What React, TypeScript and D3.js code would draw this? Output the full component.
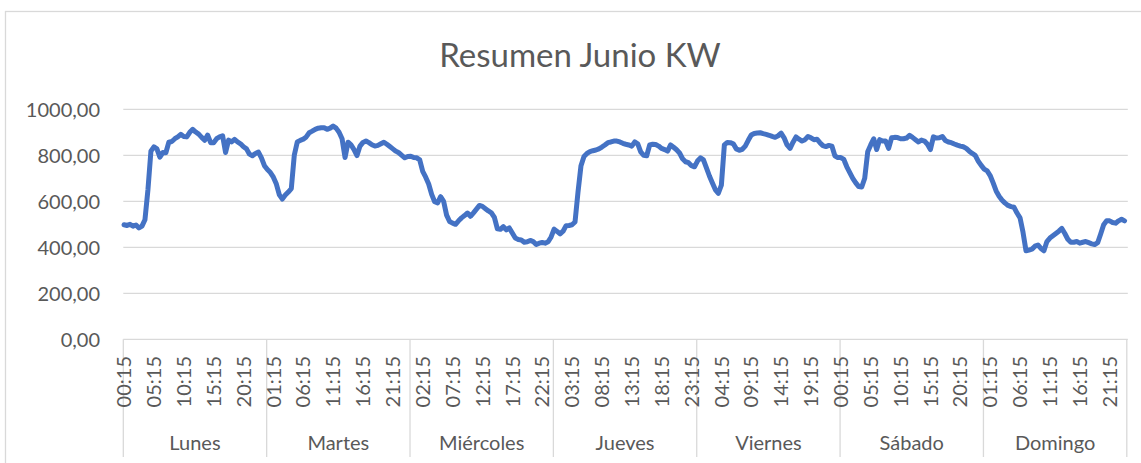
import React from "react";
import * as d3 from "d3";

// ---- Data (kW, one reading every 30 min starting 00:15) ----
const DAYS = ["Lunes", "Martes", "Miércoles", "Jueves", "Viernes", "Sábado", "Domingo"];

const LUNES = [498, 495, 500, 492, 497, 484, 492, 520, 650, 818, 837, 828, 792, 812, 811, 857, 860, 872, 880, 891, 882, 880, 900, 913, 901, 892, 878, 865, 888, 855, 855, 872, 880, 885, 812, 866, 858, 869, 858, 850, 837, 828, 805, 798, 808, 814, 789, 755];
const MARTES = [738, 725, 705, 675, 628, 610, 627, 640, 655, 800, 858, 865, 870, 880, 898, 905, 913, 918, 920, 920, 913, 918, 927, 918, 900, 872, 790, 857, 845, 825, 799, 840, 856, 862, 855, 846, 840, 843, 850, 857, 848, 838, 828, 818, 811, 800, 789, 795];
const MIERCOLES = [796, 790, 789, 780, 730, 705, 675, 630, 598, 593, 620, 600, 540, 512, 505, 500, 515, 528, 538, 549, 535, 550, 566, 582, 578, 568, 558, 550, 530, 480, 478, 490, 476, 484, 462, 440, 434, 432, 422, 424, 430, 425, 412, 418, 421, 418, 424, 445];
const JUEVES = [479, 469, 458, 470, 494, 495, 498, 510, 640, 755, 795, 808, 816, 820, 823, 828, 836, 845, 855, 858, 862, 862, 858, 852, 848, 845, 840, 858, 850, 815, 800, 798, 845, 848, 847, 840, 830, 825, 818, 845, 835, 824, 810, 785, 772, 768, 755, 750];
const VIERNES = [775, 789, 780, 745, 710, 680, 650, 635, 670, 845, 856, 855, 850, 828, 822, 826, 840, 865, 888, 895, 897, 898, 894, 891, 887, 882, 878, 885, 896, 876, 845, 830, 857, 880, 870, 862, 868, 882, 876, 868, 870, 855, 842, 838, 843, 840, 798, 790];
const SABADO = [790, 782, 750, 725, 700, 680, 664, 662, 700, 815, 845, 872, 825, 868, 862, 862, 830, 876, 878, 877, 872, 872, 875, 887, 878, 868, 858, 866, 862, 848, 825, 880, 875, 876, 882, 864, 858, 855, 849, 844, 840, 837, 830, 818, 808, 800, 775, 756];
const DOMINGO = [740, 732, 712, 680, 645, 622, 605, 592, 582, 577, 574, 549, 528, 465, 385, 388, 392, 405, 410, 395, 385, 425, 440, 450, 460, 470, 482, 460, 435, 422, 422, 425, 418, 422, 425, 420, 415, 412, 420, 458, 498, 515, 515, 508, 505, 515, 522, 515];

const SERIES_BY_DAY = [LUNES, MARTES, MIERCOLES, JUEVES, VIERNES, SABADO, DOMINGO];

const SLOTS_PER_DAY = 96; // 15-minute categories per day
const SAMPLE_STEP = 2; // one reading every 2 categories (30 min)
const TICK_EVERY = 20;
const TICK_LABELS = [
  "00:15", "05:15", "10:15", "15:15", "20:15",
  "01:15", "06:15", "11:15", "16:15", "21:15",
  "02:15", "07:15", "12:15", "17:15", "22:15",
  "03:15", "08:15", "13:15", "18:15", "23:15",
  "04:15", "09:15", "14:15", "19:15",
  "00:15", "05:15", "10:15", "15:15", "20:15",
  "01:15", "06:15", "11:15", "16:15", "21:15",
];
const Y_TICKS = [0, 200, 400, 600, 800, 1000];
const TITLE = "Resumen Junio KW";

const W = 1141;
const H = 463;
const PLOT_L = 123.3;
const PLOT_R = 1126.8;
const PLOT_T = 109.3;
const PLOT_B = 339.3;
const CAT_BOTTOM = 457;

const FONT = "Lato, 'Open Sans', sans-serif";
const TEXT = "#595959";
const GRID = "#D9D9D9";
const LINE = "#4472C4";

export default function App() {
  const nCat = SLOTS_PER_DAY * DAYS.length;
  const x = d3.scaleLinear().domain([0, nCat]).range([PLOT_L, PLOT_R]);
  const y = d3.scaleLinear().domain([0, 1000]).range([PLOT_B, PLOT_T]);
  const fmt = d3
    .formatLocale({ decimal: ",", thousands: "", grouping: [3], currency: ["", ""] })
    .format(".2f");

  const points: { i: number; v: number }[] = [];
  SERIES_BY_DAY.forEach((vals, d) => {
    vals.forEach((v, k) => points.push({ i: d * SLOTS_PER_DAY + k * SAMPLE_STEP, v }));
  });
  const line = d3
    .line<{ i: number; v: number }>()
    .x((p) => x(p.i + 0.5))
    .y((p) => y(p.v));

  return (
    <svg
      width={W}
      height={H}
      style={{ position: "absolute", left: 0, top: 0, background: "#fff" }}
      fontFamily={FONT}
    >
      <rect x={5.5} y={11.5} width={1150} height={470} fill="#fff" stroke={GRID} strokeWidth={1.3} />
      <text x={580} y={66.5} textAnchor="middle" fontSize={33} fill={TEXT} fontWeight={400}>
        {TITLE}
      </text>

      {Y_TICKS.map((t) => (
        <g key={t}>
          {t > 0 && (
            <line x1={PLOT_L} x2={PLOT_R + 1} y1={y(t)} y2={y(t)} stroke={GRID} strokeWidth={1.3} />
          )}
          <text x={100} y={y(t)} dy="0.36em" textAnchor="end" fontSize={20} fill={TEXT}>
            {fmt(t)}
          </text>
        </g>
      ))}

      {/* category axis box */}
      <line x1={PLOT_L} x2={PLOT_R + 1} y1={PLOT_B} y2={PLOT_B} stroke={GRID} strokeWidth={1.3} />
      {d3.range(DAYS.length + 1).map((d) => (
        <line
          key={d}
          x1={x(d * SLOTS_PER_DAY)}
          x2={x(d * SLOTS_PER_DAY)}
          y1={PLOT_B}
          y2={CAT_BOTTOM}
          stroke={GRID}
          strokeWidth={1.3}
        />
      ))}

      {TICK_LABELS.map((lab, j) => {
        const cx = x(j * TICK_EVERY + 0.5);
        return (
          <text
            key={j}
            transform={`translate(${cx},356) rotate(-90)`}
            dy="0.36em"
            textAnchor="end"
            fontSize={20}
            fill={TEXT}
          >
            {lab}
          </text>
        );
      })}

      {DAYS.map((day, d) => (
        <text
          key={day}
          x={x(d * SLOTS_PER_DAY + SLOTS_PER_DAY / 2)}
          y={450}
          textAnchor="middle"
          fontSize={20}
          fill={TEXT}
        >
          {day}
        </text>
      ))}

      <path
        d={line(points) || ""}
        fill="none"
        stroke={LINE}
        strokeWidth={5}
        strokeLinejoin="round"
        strokeLinecap="round"
      />
    </svg>
  );
}
